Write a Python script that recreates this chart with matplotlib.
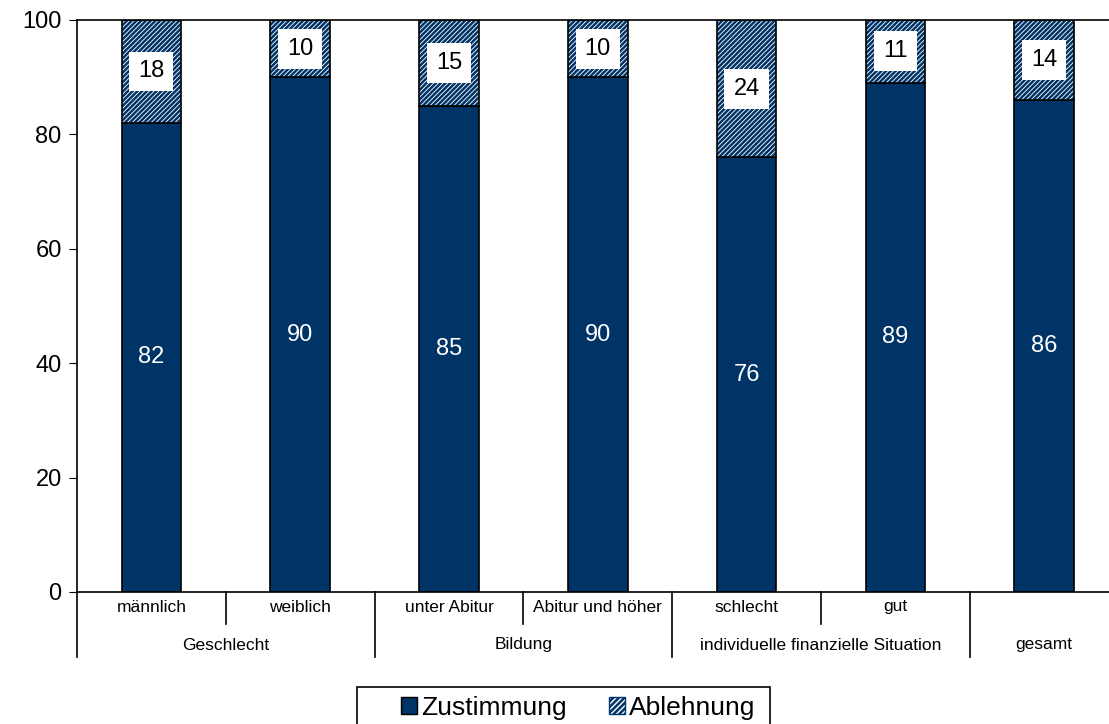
import matplotlib
matplotlib.use("Agg")
import matplotlib.pyplot as plt
from matplotlib.patches import Patch, Rectangle

plt.rcParams['font.family'] = ['Liberation Sans', 'DejaVu Sans']
plt.rcParams['hatch.linewidth'] = 1.8

categories = ["männlich", "weiblich", "unter Abitur", "Abitur und höher",
              "schlecht", "gut", ""]
groups = ["Geschlecht", "Bildung", "individuelle finanzielle Situation", "gesamt"]
group_spans = [(0, 1), (2, 3), (4, 5), (6, 6)]
zustimmung = [82, 90, 85, 90, 76, 89, 86]
ablehnung = [18, 10, 15, 10, 24, 11, 14]

dark = "#003366"
W, H = 1109, 724
fig = plt.figure(figsize=(W / 100, H / 100), dpi=100)
ax = fig.add_axes([77 / W, (H - 592) / H, (1118.5 - 77) / W, 572 / H])

x = list(range(len(categories)))
ax.bar(x, zustimmung, width=0.4, color=dark, edgecolor="black", linewidth=1.2)
ax.bar(x, ablehnung, width=0.4, bottom=zustimmung, color="white",
       edgecolor=dark, hatch="///////", linewidth=0)
ax.bar(x, ablehnung, width=0.4, bottom=zustimmung, fill=False,
       edgecolor="black", linewidth=1.2)

for i in x:
    ax.text(i, zustimmung[i] / 2, str(zustimmung[i]), ha="center", va="center",
            color="white", fontsize=17)
    ax.text(i, zustimmung[i] + ablehnung[i] / 2, str(ablehnung[i]),
            ha="center", va="center", color="black", fontsize=17,
            bbox=dict(facecolor="white", edgecolor="none", pad=6.5))

ax.set_xlim(-0.5, 6.5)
ax.set_ylim(0, 100)
ax.set_yticks([0, 20, 40, 60, 80, 100])
ax.tick_params(axis="y", labelsize=17, length=6, direction="out", pad=5)
ax.set_xticks([])
for s in ["left", "top", "bottom", "right"]:
    ax.spines[s].set_linewidth(1.2)

# two-row category axis
ah = 572.0
tr = ax.get_xaxis_transform()
for i, c in enumerate(categories):
    ax.text(i, -15 / ah, c, transform=tr, ha="center", va="center", fontsize=12.5)
for (a, b), g in zip(group_spans, groups):
    ax.text((a + b) / 2, -53 / ah, g, transform=tr, ha="center", va="center",
            fontsize=12.5)
for xb in [0.5, 2.5, 4.5]:
    ax.plot([xb, xb], [0, -32 / ah], transform=tr, color="black", lw=1.2,
            clip_on=False)
for xb in [-0.5, 1.5, 3.5, 5.5, 6.5]:
    ax.plot([xb, xb], [0, -65 / ah], transform=tr, color="black", lw=1.2,
            clip_on=False)

handles = [Patch(facecolor=dark, edgecolor="black", label="Zustimmung"),
           Patch(facecolor="white", edgecolor=dark, hatch="//////",
                 label="Ablehnung")]
leg = fig.legend(handles=handles, loc="center",
                 bbox_to_anchor=(578 / W, 1 - 708 / H), ncol=2, fontsize=19,
                 frameon=False, handlelength=0.6,
                 handleheight=0.6, handletextpad=0.15, columnspacing=1.6,
                 borderpad=0, borderaxespad=0)
fig.patches.append(Rectangle((357 / W, -0.02), (770 - 357) / W,
                             (H - 687) / H + 0.02, transform=fig.transFigure,
                             fill=False, edgecolor="black", linewidth=1.2))

fig.savefig("out.png", dpi=100)
